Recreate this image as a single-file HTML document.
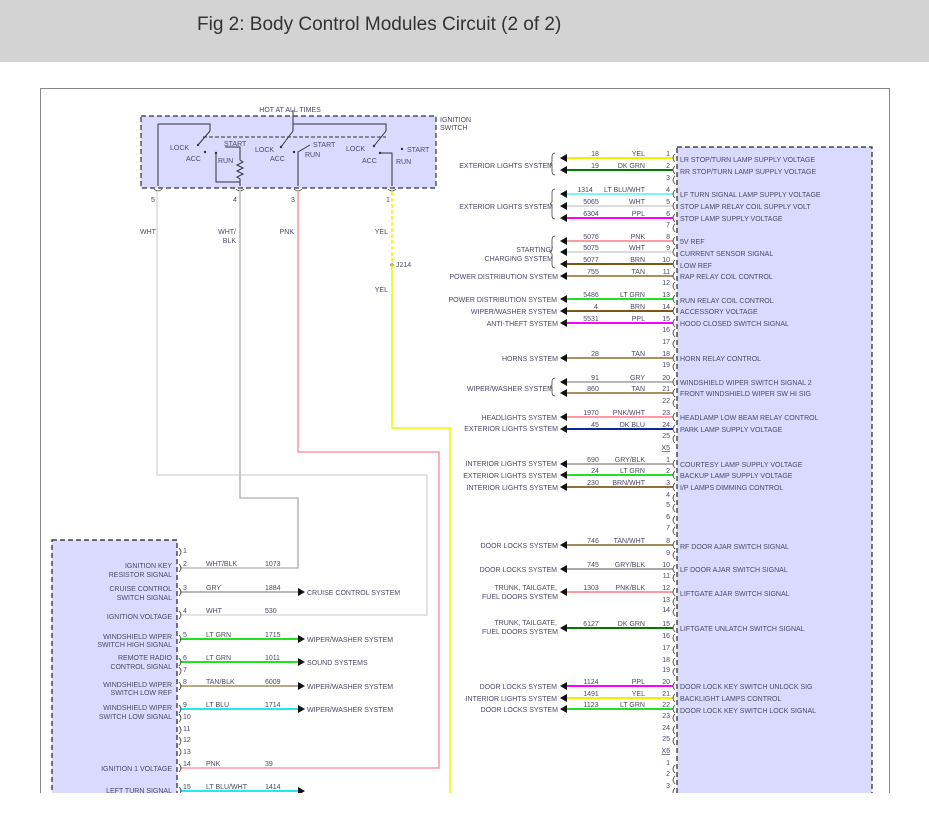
<!DOCTYPE html>
<html><head><meta charset="utf-8"><style>
html,body{margin:0;padding:0;background:#fff;width:929px;height:823px;overflow:hidden}
svg{display:block}
text{font-family:"Liberation Sans",sans-serif;font-size:7px;fill:#4a4a66}
.r{text-anchor:end}.m{text-anchor:middle}
.t{font-size:19px;fill:#333}
</style></head><body>
<svg width="929" height="823" viewBox="0 0 929 823" xmlns="http://www.w3.org/2000/svg">
<rect x="0" y="0" width="929" height="62" fill="#d3d3d3"/>
<text x="197" y="30" class="t">Fig 2: Body Control Modules Circuit (2 of 2)</text>
<defs><clipPath id="c"><rect x="0" y="62" width="929" height="731"/></clipPath>
<marker id="a" viewBox="0 0 10 10" refX="0" refY="5" markerWidth="8" markerHeight="8" orient="auto"/></defs>
<g clip-path="url(#c)">
<rect x="40.5" y="88.5" width="849" height="740" fill="none" stroke="#888" stroke-width="1"/>
<!-- right module -->
<rect x="677" y="147" width="195" height="700" fill="#dadaff" stroke="#222" stroke-dasharray="5,3" stroke-width="1.2"/>
<!-- left module -->
<rect x="52" y="540" width="125" height="300" fill="#dadaff" stroke="#222" stroke-dasharray="5,3" stroke-width="1.2"/>
<!-- ignition switch -->
<rect x="141" y="116" width="295" height="72" fill="#dadaff" stroke="#333" stroke-dasharray="5,3" stroke-width="1.2"/>
<text x="290" y="112" class="m">HOT AT ALL TIMES</text>
<text x="440" y="122">IGNITION</text><text x="440" y="130">SWITCH</text>
<g stroke="#333" stroke-width="1" fill="none">
<path d="M293 110V124M158 124H210V131M293 124H386V131M158 124V186M293 124V131"/>
<path d="M203 137H386" stroke-dasharray="4,2"/>
<path d="M210 131L198 145M293 131L281 147M386 131L374 146"/>
<path d="M216 153V182H240M225 147H240V160l3 2-6 3 6 3-6 3 6 3-6 3 3 2V186"/>
<path d="M298 186V152L310 145M392 186V153H380"/>
</g>
<g fill="#333"><circle cx="205" cy="152" r="1.2"/><circle cx="216" cy="153" r="1.2"/><circle cx="294" cy="152" r="1.2"/><circle cx="380" cy="153" r="1.2"/><circle cx="402" cy="149" r="1.2"/><circle cx="198" cy="145" r="1.2"/><circle cx="281" cy="147" r="1.2"/><circle cx="374" cy="146" r="1.2"/></g>
<text x="170" y="150">LOCK</text><text x="186" y="161">ACC</text><text x="224" y="146">START</text><text x="218" y="163">RUN</text>
<text x="255" y="152">LOCK</text><text x="270" y="161">ACC</text><text x="313" y="147">START</text><text x="305" y="157">RUN</text>
<text x="346" y="151">LOCK</text><text x="362" y="163">ACC</text><text x="407" y="152">START</text><text x="396" y="164">RUN</text>
<g fill="none" stroke="#555" stroke-width=".8"><path d="M154 189q4 4 8 0M236 189q4 4 8 0M294 189q4 4 8 0M388 189q4 4 8 0"/></g>
<text x="151" y="202">5</text><text x="233" y="202">4</text><text x="291" y="202">3</text><text x="386" y="202">1</text>
<text x="140" y="234">WHT</text><text x="236" y="234" class="r">WHT/</text><text x="236" y="243" class="r">BLK</text>
<text x="294" y="234" class="r">PNK</text><text x="388" y="234" class="r">YEL</text><text x="388" y="292" class="r">YEL</text>
<circle cx="392" cy="265" r="1.5" fill="#333"/><text x="396" y="267">J214</text>
<!-- long wires -->
<g fill="none" stroke-width="1.6">
<path d="M157 192V475H427V615H180" stroke="#dcdcdc"/>
<path d="M240 192V498H298V568H180" stroke="#bbb"/>
<path d="M298 192V452H439V768H180" stroke="#ff99a8"/>
<path d="M392 192V265" stroke="#f5f500" stroke-dasharray="4,2"/>
<path d="M392 265V428H450V800" stroke="#f5f500"/>
</g>
<!-- right side wires -->
<g stroke-width="2" fill="none">
<path d="M566 158H673" stroke="#f0f000"/>
<path d="M566 170H673" stroke="#007a00"/>
<path d="M566 194H673" stroke="#80f5f5"/>
<path d="M566 206H673" stroke="#dcdcdc"/>
<path d="M566 218H673" stroke="#f0f"/>
<path d="M566 241H673" stroke="#ff99a8"/>
<path d="M566 252H673" stroke="#dcdcdc"/>
<path d="M566 264H673" stroke="#7a5a10"/>
<path d="M566 276H673" stroke="#a89060"/>
<path d="M566 299H673" stroke="#22e022"/>
<path d="M566 311H673" stroke="#7a5a10"/>
<path d="M566 323H673" stroke="#f0f"/>
<path d="M566 358H673" stroke="#a89060"/>
<path d="M566 382H673" stroke="#b8b8b8"/>
<path d="M566 393H673" stroke="#a89060"/>
<path d="M566 417H673" stroke="#ff99a8"/>
<path d="M566 429H673" stroke="#102890"/>
<path d="M566 464H673" stroke="#b0b0b0"/>
<path d="M566 475H673" stroke="#22e022"/>
<path d="M566 487H673" stroke="#8b7040"/>
<path d="M566 545H673" stroke="#a08c5c"/>
<path d="M566 569H673" stroke="#a8a8a8"/>
<path d="M566 592H673" stroke="#ff99a8"/>
<path d="M566 628H673" stroke="#007a00"/>
<path d="M566 686H673" stroke="#f0f"/>
<path d="M566 698H673" stroke="#f0f000"/>
<path d="M566 709H673" stroke="#22e022"/>
</g>
<g fill="#111">
<path d="M560 158l7-4v8zM560 170l7-4v8zM560 194l7-4v8zM560 206l7-4v8zM560 218l7-4v8zM560 241l7-4v8zM560 252l7-4v8zM560 264l7-4v8zM560 276l7-4v8zM560 299l7-4v8zM560 311l7-4v8zM560 323l7-4v8zM560 358l7-4v8zM560 382l7-4v8zM560 393l7-4v8zM560 417l7-4v8zM560 429l7-4v8zM560 464l7-4v8zM560 475l7-4v8zM560 487l7-4v8zM560 545l7-4v8zM560 569l7-4v8zM560 592l7-4v8zM560 628l7-4v8zM560 686l7-4v8zM560 698l7-4v8zM560 709l7-4v8z"/>
</g>
<!-- connector brackets right -->
<g fill="none" stroke="#444" stroke-width=".8">
<path d="M675 154q-4 4 0 8M675 166q-4 4 0 8M675 176q-4 4 0 8M675 190q-4 4 0 8M675 202q-4 4 0 8M675 214q-4 4 0 8M675 224q-4 4 0 8M675 237q-4 4 0 8M675 248q-4 4 0 8M675 260q-4 4 0 8M675 272q-4 4 0 8M675 282q-4 4 0 8M675 295q-4 4 0 8M675 307q-4 4 0 8M675 319q-4 4 0 8M675 329q-4 4 0 8M675 340q-4 4 0 8M675 354q-4 4 0 8M675 363q-4 4 0 8M675 378q-4 4 0 8M675 389q-4 4 0 8M675 399q-4 4 0 8M675 413q-4 4 0 8M675 425q-4 4 0 8M675 435q-4 4 0 8M675 460q-4 4 0 8M675 471q-4 4 0 8M675 483q-4 4 0 8M675 494q-4 4 0 8M675 504q-4 4 0 8M675 516q-4 4 0 8M675 527q-4 4 0 8M675 541q-4 4 0 8M675 551q-4 4 0 8M675 565q-4 4 0 8M675 574q-4 4 0 8M675 588q-4 4 0 8M675 598q-4 4 0 8M675 608q-4 4 0 8M675 624q-4 4 0 8M675 634q-4 4 0 8M675 646q-4 4 0 8M675 658q-4 4 0 8M675 668q-4 4 0 8M675 682q-4 4 0 8M675 694q-4 4 0 8M675 705q-4 4 0 8M675 714q-4 4 0 8M675 726q-4 4 0 8M675 737q-4 4 0 8M675 765q-4 4 0 8M675 776q-4 4 0 8M675 788q-4 4 0 8"/>
<path d="M555 153q-3 0-3 4v5l-2 2 2 2v5q0 4 3 4M555 189q-3 0-3 4v9l-2 2 2 2v9q0 4 3 4M555 236q-3 0-3 4v10l-2 2 2 2v10q0 4 3 4M555 378q-3 0-3 4v3l-2 2 2 2v3q0 4 3 4"/>
</g>
<!-- right pin numbers -->
<g class="r">
<text x="670" y="156" class="r">1</text><text x="670" y="168" class="r">2</text><text x="670" y="180" class="r">3</text>
<text x="670" y="192" class="r">4</text><text x="670" y="204" class="r">5</text><text x="670" y="216" class="r">6</text><text x="670" y="227" class="r">7</text>
<text x="670" y="239" class="r">8</text><text x="670" y="250" class="r">9</text><text x="670" y="262" class="r">10</text><text x="670" y="274" class="r">11</text><text x="670" y="285" class="r">12</text>
<text x="670" y="297" class="r">13</text><text x="670" y="309" class="r">14</text><text x="670" y="321" class="r">15</text><text x="670" y="332" class="r">16</text><text x="670" y="344" class="r">17</text>
<text x="670" y="356" class="r">18</text><text x="670" y="367" class="r">19</text><text x="670" y="380" class="r">20</text><text x="670" y="391" class="r">21</text><text x="670" y="403" class="r">22</text>
<text x="670" y="415" class="r">23</text><text x="670" y="427" class="r">24</text><text x="670" y="438" class="r">25</text>
<text x="670" y="450" class="r" text-decoration="underline">X5</text>
<text x="670" y="462" class="r">1</text><text x="670" y="473" class="r">2</text><text x="670" y="485" class="r">3</text><text x="670" y="497" class="r">4</text><text x="670" y="507" class="r">5</text><text x="670" y="519" class="r">6</text><text x="670" y="530" class="r">7</text>
<text x="670" y="543" class="r">8</text><text x="670" y="555" class="r">9</text><text x="670" y="567" class="r">10</text><text x="670" y="578" class="r">11</text><text x="670" y="590" class="r">12</text><text x="670" y="602" class="r">13</text><text x="670" y="612" class="r">14</text>
<text x="670" y="626" class="r">15</text><text x="670" y="638" class="r">16</text><text x="670" y="650" class="r">17</text><text x="670" y="662" class="r">18</text><text x="670" y="672" class="r">19</text>
<text x="670" y="684" class="r">20</text><text x="670" y="696" class="r">21</text><text x="670" y="707" class="r">22</text><text x="670" y="718" class="r">23</text><text x="670" y="730" class="r">24</text><text x="670" y="741" class="r">25</text>
<text x="670" y="753" class="r" text-decoration="underline">X6</text>
<text x="670" y="765" class="r">1</text><text x="670" y="776" class="r">2</text><text x="670" y="788" class="r">3</text>
</g>
<!-- circuit numbers and colors -->
<g>
<text x="595" y="156" class="m">18</text><text x="645" y="156" class="r">YEL</text>
<text x="595" y="168" class="m">19</text><text x="645" y="168" class="r">DK GRN</text>
<text x="585" y="192" class="m">1314</text><text x="645" y="192" class="r">LT BLU/WHT</text>
<text x="591" y="204" class="m">5065</text><text x="645" y="204" class="r">WHT</text>
<text x="591" y="216" class="m">6304</text><text x="645" y="216" class="r">PPL</text>
<text x="591" y="239" class="m">5076</text><text x="645" y="239" class="r">PNK</text>
<text x="591" y="250" class="m">5075</text><text x="645" y="250" class="r">WHT</text>
<text x="591" y="262" class="m">5077</text><text x="645" y="262" class="r">BRN</text>
<text x="593" y="274" class="m">755</text><text x="645" y="274" class="r">TAN</text>
<text x="591" y="297" class="m">5486</text><text x="645" y="297" class="r">LT GRN</text>
<text x="596" y="309" class="m">4</text><text x="645" y="309" class="r">BRN</text>
<text x="591" y="321" class="m">5531</text><text x="645" y="321" class="r">PPL</text>
<text x="595" y="356" class="m">28</text><text x="645" y="356" class="r">TAN</text>
<text x="595" y="380" class="m">91</text><text x="645" y="380" class="r">GRY</text>
<text x="593" y="391" class="m">860</text><text x="645" y="391" class="r">TAN</text>
<text x="591" y="415" class="m">1970</text><text x="645" y="415" class="r">PNK/WHT</text>
<text x="595" y="427" class="m">45</text><text x="645" y="427" class="r">DK BLU</text>
<text x="593" y="462" class="m">690</text><text x="645" y="462" class="r">GRY/BLK</text>
<text x="595" y="473" class="m">24</text><text x="645" y="473" class="r">LT GRN</text>
<text x="593" y="485" class="m">230</text><text x="645" y="485" class="r">BRN/WHT</text>
<text x="593" y="543" class="m">746</text><text x="645" y="543" class="r">TAN/WHT</text>
<text x="593" y="567" class="m">745</text><text x="645" y="567" class="r">GRY/BLK</text>
<text x="591" y="590" class="m">1303</text><text x="645" y="590" class="r">PNK/BLK</text>
<text x="591" y="626" class="m">6127</text><text x="645" y="626" class="r">DK GRN</text>
<text x="591" y="684" class="m">1124</text><text x="645" y="684" class="r">PPL</text>
<text x="591" y="696" class="m">1491</text><text x="645" y="696" class="r">YEL</text>
<text x="591" y="707" class="m">1123</text><text x="645" y="707" class="r">LT GRN</text>
</g>
<!-- system labels -->
<g>
<text x="553" y="168" class="r">EXTERIOR LIGHTS SYSTEM</text>
<text x="553" y="209" class="r">EXTERIOR LIGHTS SYSTEM</text>
<text x="553" y="252" class="r">STARTING/</text><text x="553" y="261" class="r">CHARGING SYSTEM</text>
<text x="558" y="279" class="r">POWER DISTRIBUTION SYSTEM</text>
<text x="557" y="302" class="r">POWER DISTRIBUTION SYSTEM</text>
<text x="557" y="314" class="r">WIPER/WASHER SYSTEM</text>
<text x="558" y="326" class="r">ANTI-THEFT SYSTEM</text>
<text x="558" y="361" class="r">HORNS SYSTEM</text>
<text x="553" y="391" class="r">WIPER/WASHER SYSTEM</text>
<text x="557" y="420" class="r">HEADLIGHTS SYSTEM</text>
<text x="558" y="431" class="r">EXTERIOR LIGHTS SYSTEM</text>
<text x="557" y="466" class="r">INTERIOR LIGHTS SYSTEM</text>
<text x="557" y="478" class="r">EXTERIOR LIGHTS SYSTEM</text>
<text x="558" y="490" class="r">INTERIOR LIGHTS SYSTEM</text>
<text x="558" y="548" class="r">DOOR LOCKS SYSTEM</text>
<text x="557" y="572" class="r">DOOR LOCKS SYSTEM</text>
<text x="557" y="590" class="r">TRUNK, TAILGATE,</text><text x="558" y="599" class="r">FUEL DOORS SYSTEM</text>
<text x="557" y="625" class="r">TRUNK, TAILGATE,</text><text x="558" y="634" class="r">FUEL DOORS SYSTEM</text>
<text x="557" y="689" class="r">DOOR LOCKS SYSTEM</text>
<text x="557" y="701" class="r">INTERIOR LIGHTS SYSTEM</text>
<text x="558" y="712" class="r">DOOR LOCKS SYSTEM</text>
</g>
<!-- module labels right -->
<g>
<text x="680" y="162">LR STOP/TURN LAMP SUPPLY VOLTAGE</text>
<text x="680" y="174">RR STOP/TURN LAMP SUPPLY VOLTAGE</text>
<text x="680" y="197">LF TURN SIGNAL LAMP SUPPLY VOLTAGE</text>
<text x="680" y="209">STOP LAMP RELAY COIL SUPPLY VOLT</text>
<text x="680" y="221">STOP LAMP SUPPLY VOLTAGE</text>
<text x="680" y="244">5V REF</text>
<text x="680" y="256">CURRENT SENSOR SIGNAL</text>
<text x="680" y="268">LOW REF</text>
<text x="680" y="279">RAP RELAY COIL CONTROL</text>
<text x="680" y="303">RUN RELAY COIL CONTROL</text>
<text x="680" y="314">ACCESSORY VOLTAGE</text>
<text x="680" y="326">HOOD CLOSED SWITCH SIGNAL</text>
<text x="680" y="361">HORN RELAY CONTROL</text>
<text x="680" y="385">WINDSHIELD WIPER SWITCH SIGNAL 2</text>
<text x="680" y="396">FRONT WINDSHIELD WIPER SW HI SIG</text>
<text x="680" y="420">HEADLAMP LOW BEAM RELAY CONTROL</text>
<text x="680" y="432">PARK LAMP SUPPLY VOLTAGE</text>
<text x="680" y="467">COURTESY LAMP SUPPLY VOLTAGE</text>
<text x="680" y="478">BACKUP LAMP SUPPLY VOLTAGE</text>
<text x="680" y="490">I/P LAMPS DIMMING CONTROL</text>
<text x="680" y="549">RF DOOR AJAR SWITCH SIGNAL</text>
<text x="680" y="572">LF DOOR AJAR SWITCH SIGNAL</text>
<text x="680" y="596">LIFTGATE AJAR SWITCH SIGNAL</text>
<text x="680" y="631">LIFTGATE UNLATCH SWITCH SIGNAL</text>
<text x="680" y="689">DOOR LOCK KEY SWITCH UNLOCK SIG</text>
<text x="680" y="701">BACKLIGHT LAMPS CONTROL</text>
<text x="680" y="713">DOOR LOCK KEY SWITCH LOCK SIGNAL</text>
</g>
<!-- left side wires -->
<g stroke-width="2" fill="none">
<path d="M180 592H298" stroke="#b8b8b8"/>
<path d="M180 639H298" stroke="#22e022"/>
<path d="M180 662H298" stroke="#22e022"/>
<path d="M180 686H298" stroke="#b8a888"/>
<path d="M180 709H298" stroke="#22e8f0"/>
<path d="M180 791H298" stroke="#22e8f0"/>
</g>
<g fill="#111"><path d="M305 592l-7-4v8zM305 639l-7-4v8zM305 662l-7-4v8zM305 686l-7-4v8zM305 709l-7-4v8zM305 791l-7-4v8z"/></g>
<g fill="none" stroke="#444" stroke-width=".8">
<path d="M179 548q4 4 0 8M179 564q4 4 0 8M179 588q4 4 0 8M179 611q4 4 0 8M179 635q4 4 0 8M179 658q4 4 0 8M179 667q4 4 0 8M179 682q4 4 0 8M179 705q4 4 0 8M179 714q4 4 0 8M179 726q4 4 0 8M179 737q4 4 0 8M179 748q4 4 0 8M179 764q4 4 0 8M179 787q4 4 0 8"/>
</g>
<g>
<text x="183" y="553">1</text><text x="183" y="566">2</text><text x="183" y="590">3</text><text x="183" y="613">4</text><text x="183" y="637">5</text><text x="183" y="660">6</text><text x="183" y="672">7</text><text x="183" y="684">8</text><text x="183" y="707">9</text><text x="183" y="719">10</text><text x="183" y="731">11</text><text x="183" y="742">12</text><text x="183" y="754">13</text><text x="183" y="766">14</text><text x="183" y="789">15</text>
<text x="206" y="566">WHT/BLK</text><text x="265" y="566">1073</text>
<text x="206" y="590">GRY</text><text x="265" y="590">1884</text>
<text x="206" y="613">WHT</text><text x="265" y="613">530</text>
<text x="206" y="637">LT GRN</text><text x="265" y="637">1715</text>
<text x="206" y="660">LT GRN</text><text x="265" y="660">1011</text>
<text x="206" y="684">TAN/BLK</text><text x="265" y="684">6009</text>
<text x="206" y="707">LT BLU</text><text x="265" y="707">1714</text>
<text x="206" y="766">PNK</text><text x="265" y="766">39</text>
<text x="206" y="789">LT BLU/WHT</text><text x="265" y="789">1414</text>
<text x="307" y="595">CRUISE CONTROL SYSTEM</text>
<text x="307" y="642">WIPER/WASHER SYSTEM</text>
<text x="307" y="665">SOUND SYSTEMS</text>
<text x="307" y="689">WIPER/WASHER SYSTEM</text>
<text x="307" y="712">WIPER/WASHER SYSTEM</text>
<text x="172" y="568" class="r">IGNITION KEY</text><text x="172" y="577" class="r">RESISTOR SIGNAL</text>
<text x="172" y="591" class="r">CRUISE CONTROL</text><text x="172" y="600" class="r">SWITCH SIGNAL</text>
<text x="172" y="619" class="r">IGNITION VOLTAGE</text>
<text x="172" y="639" class="r">WINDSHIELD WIPER</text><text x="172" y="647" class="r">SWITCH HIGH SIGNAL</text>
<text x="172" y="660" class="r">REMOTE RADIO</text><text x="172" y="669" class="r">CONTROL SIGNAL</text>
<text x="172" y="687" class="r">WINDSHIELD WIPER</text><text x="172" y="695" class="r">SWITCH LOW REF</text>
<text x="172" y="710" class="r">WINDSHIELD WIPER</text><text x="172" y="719" class="r">SWITCH LOW SIGNAL</text>
<text x="172" y="771" class="r">IGNITION 1 VOLTAGE</text>
<text x="172" y="793" class="r">LEFT TURN SIGNAL</text>
</g>
</g>
</svg>
</body></html>
